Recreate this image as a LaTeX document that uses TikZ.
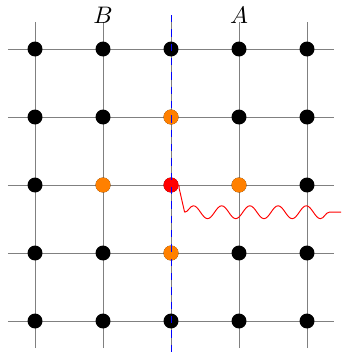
\documentclass[tikz,border=0pt]{standalone}
\usetikzlibrary{decorations.pathmorphing}
\tikzset{
  gridline/.style={gray, line width=0.4pt},
  site/.style={circle, fill=black, inner sep=0pt, minimum size=0.22cm},
  nearsite/.style={site, fill=orange},
  centersite/.style={site, fill=red},
  cutline/.style={blue, dashed, line width=0.4pt},
  wave/.style={red, line width=0.4pt},
}
\begin{document}
\begin{tikzpicture}
\useasboundingbox (-0.515,-0.485) rectangle (4.5,4.721);
% grid lines
\foreach \i in {0,...,4} {
  \draw[gridline] (-0.4,\i) -- (4.4,\i);
  \draw[gridline] (\i,-0.4) -- (\i,4.4);
}
% sites
\foreach \i in {0,...,4} {
  \foreach \j in {0,...,4} {
    \node[site] (s\i\j) at (\i,\j) {};
  }
}
\node[nearsite] (s23) at (2,3) {};
\node[nearsite] (s12) at (1,2) {};
\node[nearsite] (s32) at (3,2) {};
\node[nearsite] (s21) at (2,1) {};
\node[centersite] (s22) at (2,2) {};
% cut line
\coordinate (ctop) at (2,4.5);
\coordinate (cbot) at (2,-0.5);
\draw[cutline] (ctop) -- (cbot);
% labels
\node (B) at (1,4.5) {$B$};
\node (A) at (3,4.5) {$A$};
% wavy line
\coordinate (w0) at (2.12,1.95);
\coordinate (w1) at (2.2,1.6);
\coordinate (w2) at (4.5,1.6);
\draw[wave] (s22.east) .. controls (2.13,1.98) .. (w0) -- (w1);
\draw[wave, decorate, decoration={snake, amplitude=0.095cm, segment length=0.415cm, post length=0.14cm}] (w1) -- (w2);
\end{tikzpicture}
\end{document}
